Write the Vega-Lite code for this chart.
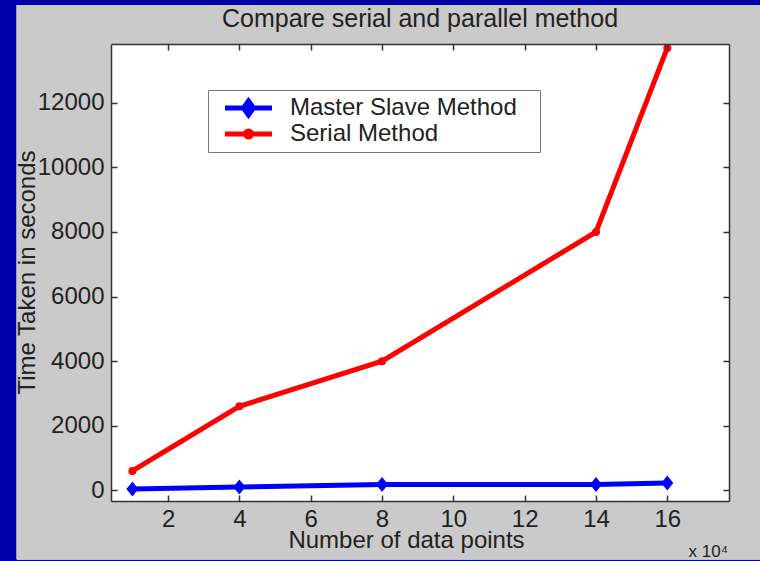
{
  "$schema": "https://vega.github.io/schema/vega-lite/v6.json",
  "autosize": {"type": "none"},
  "width": 618,
  "height": 457,
  "padding": {"left": 111, "top": 44, "right": 31, "bottom": 60},
  "background": "#0000a8",
  "title": {
    "text": "Compare serial and parallel method",
    "font": "Liberation Sans",
    "fontSize": 25,
    "fontWeight": "normal",
    "color": "#222222",
    "anchor": "middle",
    "frame": "group",
    "baseline": "middle",
    "offset": -39
  },
  "datasets": {
    "timing": [
      {"points": 1, "seconds": 40, "method": "Master Slave Method"},
      {"points": 4, "seconds": 100, "method": "Master Slave Method"},
      {"points": 8, "seconds": 180, "method": "Master Slave Method"},
      {"points": 14, "seconds": 180, "method": "Master Slave Method"},
      {"points": 16, "seconds": 230, "method": "Master Slave Method"},
      {"points": 1, "seconds": 600, "method": "Serial Method"},
      {"points": 4, "seconds": 2600, "method": "Serial Method"},
      {"points": 8, "seconds": 4000, "method": "Serial Method"},
      {"points": 14, "seconds": 8000, "method": "Serial Method"},
      {"points": 16, "seconds": 13700, "method": "Serial Method"}
    ]
  },
  "data": {"name": "timing"},
  "resolve": {"axis": {"x": "independent", "y": "independent"}},
  "layer": [
    {
      "mark": {"type": "rect", "clip": false, "color": "#cacaca"},
      "encoding": {
        "x": {"datum": -2.24, "type": "quantitative", "axis": null, "scale": {"domain": [0.4, 17.73], "nice": false, "zero": false}},
        "x2": {"datum": 19.5},
        "y": {"datum": 15030, "type": "quantitative", "axis": null, "scale": {"domain": [-330, 13820], "nice": false, "zero": false}},
        "y2": {"datum": -2130}
      }
    },
    {
      "mark": {"type": "rect", "clip": false, "color": "#ffffff"},
      "encoding": {
        "x": {"datum": 0.4, "type": "quantitative", "axis": null},
        "x2": {"datum": 17.73},
        "y": {"datum": 13820, "type": "quantitative", "axis": null},
        "y2": {"datum": -330}
      }
    },
    {
      "mark": {"type": "line", "strokeWidth": 5},
      "encoding": {
        "x": {
          "field": "points", "type": "quantitative",
          "scale": {"domain": [0.4, 17.73], "nice": false, "zero": false},
          "axis": {
            "orient": "bottom", "zindex": 2, "values": [2, 4, 6, 8, 10, 12, 14, 16],
            "title": "Number of data points",
            "titleX": 295, "titleY": 39, "titleBaseline": "middle", "titleAlign": "center"
          }
        },
        "y": {
          "field": "seconds", "type": "quantitative",
          "scale": {"domain": [-330, 13820], "nice": false, "zero": false},
          "axis": {
            "orient": "left", "zindex": 2, "values": [0, 2000, 4000, 6000, 8000, 10000, 12000], "format": "d",
            "title": "Time Taken in seconds",
            "titleX": -84, "titleY": 228, "titleBaseline": "middle", "titleAlign": "center", "titleAngle": -90
          }
        },
        "color": {
          "field": "method", "type": "nominal",
          "scale": {"domain": ["Master Slave Method", "Serial Method"], "range": ["#0000ff", "#ff0000"]},
          "legend": {
            "orient": "none", "legendX": 97, "legendY": 46, "title": null,
            "fillColor": "#ffffff", "strokeColor": "#777777", "padding": 5,
            "symbolSize": 400, "symbolStrokeWidth": 5, "symbolOffset": 23, "labelOffset": 29,
            "symbolType": "M-2.35,0L2.35,0",
            "labelFont": "Liberation Sans", "labelFontSize": 24, "labelColor": "#222222",
            "labelLimit": 500,
            "labelExpr": "datum.label + '\u2800'",
            "clipHeight": 26,
            "rowPadding": 0,
            "encode": {
              "symbols": {
                "update": {
                  "fill": {"scale": "color", "field": "value"},
                  "stroke": {"scale": "color", "field": "value"},
                  "shape": {"signal": "datum.value === 'Master Slave Method' ? 'M-2.35,0L2.35,0M0,-0.7L0.5,0L0,0.7L-0.5,0Z' : 'M-2.35,0L2.35,0M-0.3,0A0.3,0.3,0,1,1,0.3,0A0.3,0.3,0,1,1,-0.3,0Z'"}
                }
              }
            }
          }
        }
      }
    },
    {
      "transform": [{"filter": "datum.method === 'Master Slave Method'"}],
      "mark": {"type": "point", "filled": true, "opacity": 1, "color": "#0000ff", "shape": "M0,-1L0.8,0L0,1L-0.8,0Z", "size": 225},
      "encoding": {
        "x": {
          "field": "points", "type": "quantitative",
          "axis": {"orient": "top", "zindex": 2, "values": [2, 4, 6, 8, 10, 12, 14, 16], "labels": false,
                   "title": "x 10⁴", "titleX": 577, "titleY": 507, "titleAlign": "left", "titleBaseline": "middle",
                   "titleFontSize": 17}
        },
        "y": {
          "field": "seconds", "type": "quantitative",
          "axis": {"orient": "right", "zindex": 2, "values": [0, 2000, 4000, 6000, 8000, 10000, 12000], "labels": false, "title": null}
        }
      }
    },
    {
      "transform": [{"filter": "datum.method === 'Serial Method'"}],
      "mark": {"type": "point", "filled": true, "opacity": 1, "color": "#ff0000", "shape": "circle", "size": 64},
      "encoding": {
        "x": {"field": "points", "type": "quantitative", "axis": null},
        "y": {"field": "seconds", "type": "quantitative", "axis": null}
      }
    }
  ],
  "config": {
    "view": {"stroke": null},
    "axis": {
      "zindex": 2,
      "grid": false,
      "labelFont": "Liberation Sans",
      "labelFontSize": 24,
      "labelColor": "#222222",
      "titleFont": "Liberation Sans",
      "titleFontSize": 24,
      "titleFontWeight": "normal",
      "titleColor": "#222222",
      "domainColor": "#333333",
      "domainWidth": 1.5,
      "tickColor": "#333333",
      "tickWidth": 1.5,
      "tickSize": -6
    },
    "axisBottom": {"labelPadding": 12},
    "axisLeft": {"labelPadding": 13}
  }
}
